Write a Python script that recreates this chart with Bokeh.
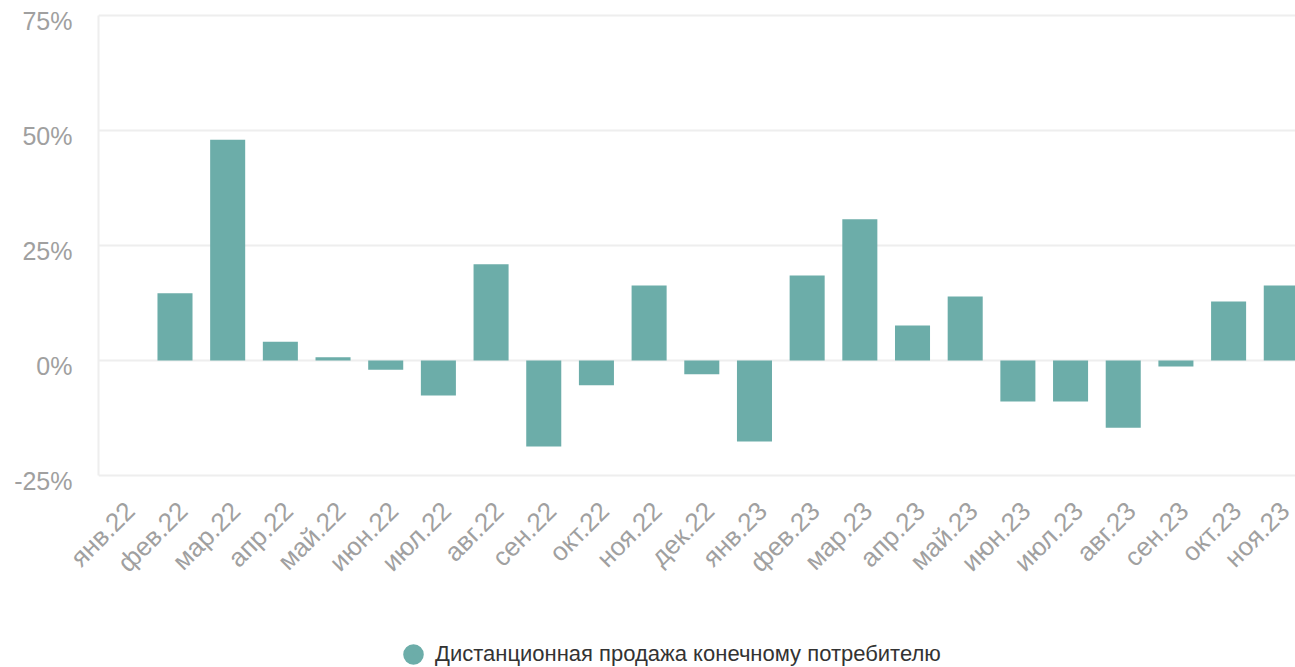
import math
from bokeh.plotting import figure
from bokeh.layouts import column
from bokeh.models import (Range1d, FixedTicker, ColumnDataSource, Legend, LegendItem,
                          LinearAxis)
from bokeh.embed import file_html
from bokeh.resources import INLINE

months = ["янв.22", "фев.22", "мар.22", "апр.22", "май.22", "июн.22", "июл.22", "авг.22",
          "сен.22", "окт.22", "ноя.22", "дек.22", "янв.23", "фев.23", "мар.23", "апр.23",
          "май.23", "июн.23", "июл.23", "авг.23", "сен.23", "окт.23", "ноя.23"]
values = [0.0, 14.6, 48.0, 4.1, 0.7, -2.0, -7.6, 20.9, -18.7, -5.4, 16.3, -3.0,
          -17.6, 18.5, 30.7, 7.6, 13.9, -8.9, -8.9, -14.6, -1.3, 12.8, 16.3]
y_ticks = [-25, 0, 25, 50, 75]
y_tick_labels = ["-25%", "0%", "25%", "50%", "75%"]
series_name = "Дистанционная продажа конечному потребителю"

BAR = "#6cada9"
FONT = "Liberation Sans"
X_LABEL_SHIFT = 0.15   # month labels sit slightly right of the bar centres
Y_LABEL_SHIFT = 1.2    # % labels sit slightly below their grid lines
PAD = 1.5217           # a little room above/below the -25..75 grid

idx = list(range(len(months)))
src = ColumnDataSource(dict(x=idx, top=values))

p = figure(width=1295, height=640, output_backend="svg", toolbar_location=None,
           x_range=Range1d(-0.452, 22.27),
           y_range=Range1d(y_ticks[0] - PAD, y_ticks[-1] + PAD),
           min_border_left=98, min_border_right=0, min_border_top=8, min_border_bottom=158)
p.outline_line_color = None
p.background_fill_color = "white"

bars = p.vbar(x="x", top="top", bottom=0, width=0.665, source=src,
              fill_color=BAR, line_color=None)

p.xgrid.visible = False
p.ygrid[0].ticker = FixedTicker(ticks=y_ticks)
p.ygrid.grid_line_color = "#eeeeee"
p.ygrid.grid_line_width = 2

# primary y axis: only the light vertical line between -25% and 75%
yline = p.yaxis[0]
yline.ticker = FixedTicker(ticks=[])
yline.bounds = (y_ticks[0], y_ticks[-1])
yline.major_tick_line_color = None
yline.minor_tick_line_color = None
yline.major_tick_out = 0
yline.major_tick_in = 0
yline.major_label_standoff = 0
yline.axis_line_color = "#eeeeee"
yline.axis_line_width = 2

# label axis
label_ticks = [round(t - Y_LABEL_SHIFT, 3) for t in y_ticks]
ylab = LinearAxis(ticker=FixedTicker(ticks=label_ticks),
                  major_label_overrides={t: l for t, l in zip(label_ticks, y_tick_labels)},
                  axis_line_color=None, major_tick_line_color=None,
                  minor_tick_line_color=None, major_tick_out=0, major_tick_in=0,
                  major_label_standoff=26, major_label_text_font=FONT,
                  major_label_text_font_size="25px", major_label_text_color="#a0a0a0")
p.add_layout(ylab, "left")

label_pos = [round(i + X_LABEL_SHIFT, 2) for i in idx]
xax = p.xaxis[0]
xax.ticker = FixedTicker(ticks=label_pos)
xax.major_label_overrides = {pos: m for pos, m in zip(label_pos, months)}
xax.major_tick_line_color = None
xax.minor_tick_line_color = None
xax.major_tick_out = 0
xax.axis_line_color = None
xax.major_label_orientation = math.pi / 4
xax.major_label_standoff = 24
xax.major_label_text_font = FONT
xax.major_label_text_font_size = "26px"
xax.major_label_text_color = "#a0a0a0"

# legend strip
lg = figure(width=1295, height=27, output_backend="svg", toolbar_location=None,
            x_range=Range1d(0, 1), y_range=Range1d(0, 1),
            min_border=0, min_border_left=0, min_border_right=0,
            min_border_top=0, min_border_bottom=0)
lg.axis.visible = False
lg.grid.visible = False
lg.outline_line_color = None
proxy_src = ColumnDataSource(dict(x=[float("nan")], y=[float("nan")]))
proxy = lg.scatter(x="x", y="y", source=proxy_src,
                   marker="circle", fill_color=BAR, line_color=BAR, line_width=11)
legend = Legend(items=[LegendItem(label=series_name, renderers=[proxy])],
                location=(303, 0), orientation="horizontal",
                glyph_width=24, glyph_height=24, label_standoff=10,
                padding=0, margin=0, border_line_color=None,
                background_fill_alpha=0,
                label_text_font=FONT, label_text_font_size="22px",
                label_text_color="#333333")
lg.add_layout(legend)

layout = column(p, lg, spacing=0)
open("out.html", "w").write(file_html(layout, INLINE))
